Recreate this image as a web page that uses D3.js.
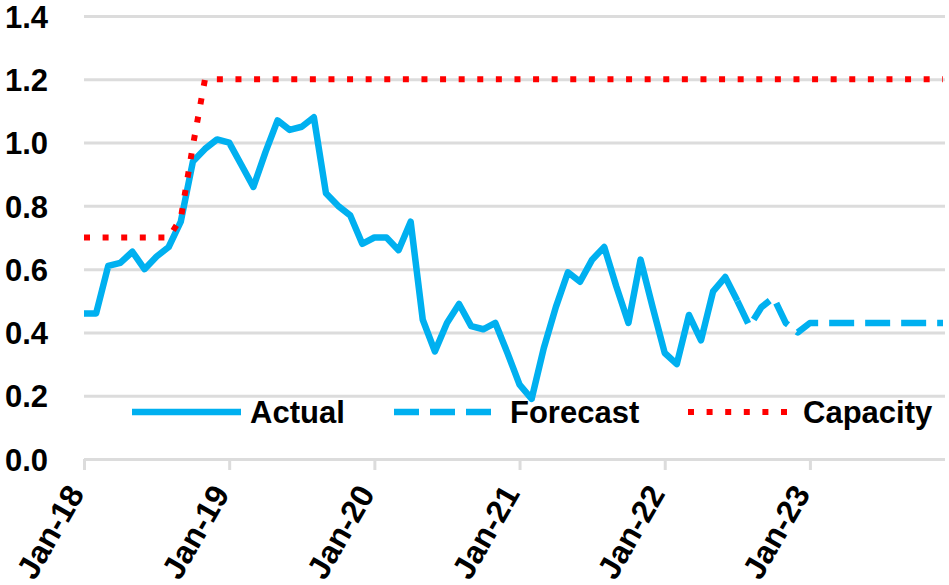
<!DOCTYPE html>
<html>
<head>
<meta charset="utf-8">
<script src="https://cdn.jsdelivr.net/npm/d3@7"></script>
<style>
  body { margin: 0; background: #fff; }
  svg text { font-family: "Liberation Sans", Arial, sans-serif; font-weight: bold; fill: #000; }
</style>
</head>
<body>
<svg id="chart"></svg>
<script>
// month index 0 = Jan-18, 71 = Dec-23
const yearTicks = [0, 12, 24, 36, 48, 60];
const yearLabels = ["Jan-18", "Jan-19", "Jan-20", "Jan-21", "Jan-22", "Jan-23"];
const yTicks = [0, 0.2, 0.4, 0.6, 0.8, 1.0, 1.2, 1.4];

// Jan-18 .. Jul-22
const actual = [
  0.46, 0.46, 0.61, 0.62, 0.655, 0.60, 0.64, 0.67, 0.75, 0.94, 0.98, 1.01,
  1.00, 0.93, 0.86, 0.97, 1.07, 1.04, 1.05, 1.08, 0.84, 0.80, 0.77, 0.68,
  0.70, 0.70, 0.66, 0.75, 0.44, 0.34, 0.43, 0.49, 0.42, 0.41, 0.43, 0.335,
  0.235, 0.19, 0.35, 0.48, 0.59, 0.56, 0.63, 0.67, 0.545, 0.43, 0.63, 0.48,
  0.335, 0.30, 0.455, 0.375, 0.53, 0.575, 0.50
];

// Jul-22 .. Dec-23
const forecastStart = 54;
const forecast = [
  0.50, 0.42, 0.48, 0.51, 0.43, 0.40,
  0.43, 0.43, 0.43, 0.43, 0.43, 0.43, 0.43, 0.43, 0.43, 0.43, 0.43, 0.43
];

// Jan-18 .. Dec-23
const capacity = [
  0.70, 0.70, 0.70, 0.70, 0.70, 0.70, 0.70, 0.70, 0.76, 0.99, 1.20, 1.20,
  1.20, 1.20, 1.20, 1.20, 1.20, 1.20, 1.20, 1.20, 1.20, 1.20, 1.20, 1.20,
  1.20, 1.20, 1.20, 1.20, 1.20, 1.20, 1.20, 1.20, 1.20, 1.20, 1.20, 1.20,
  1.20, 1.20, 1.20, 1.20, 1.20, 1.20, 1.20, 1.20, 1.20, 1.20, 1.20, 1.20,
  1.20, 1.20, 1.20, 1.20, 1.20, 1.20, 1.20, 1.20, 1.20, 1.20, 1.20, 1.20,
  1.20, 1.20, 1.20, 1.20, 1.20, 1.20, 1.20, 1.20, 1.20, 1.20, 1.20, 1.20
];

const legendItems = ["Actual", "Forecast", "Capacity"];

//margins
const margin = { top: 16, right: 4, bottom: 126, left: 84 };
const width = 949 - margin.left - margin.right;
const height = 585 - margin.top - margin.bottom;

const blue = "#00b0f0";
const red = "#ff0000";
const grid = "#dcdcdc";

const svg = d3.select("svg#chart")
  .attr("width", 949)
  .attr("height", 585);

const plotArea = svg.append("g")
  .attr("transform", "translate(" + margin.left + ", " + margin.top + ")");

const xScale = d3.scaleLinear()
  .domain([0, 71])
  .range([0, width - 2]);

const yScale = d3.scaleLinear()
  .domain([0, 1.4])
  .range([height, 0]);

//y axis with gridlines
const yAxis = plotArea.append("g")
  .call(d3.axisLeft(yScale)
    .tickValues(yTicks)
    .tickSize(-width)
    .tickPadding(36)
    .tickFormat(d3.format(".1f")));

yAxis.select(".domain").remove();
yAxis.selectAll("line").attr("stroke", grid).attr("stroke-width", 3);
yAxis.selectAll("text").style("font-size", "31px").attr("dy", "0.36em");

//x axis
const xAxis = plotArea.append("g")
  .attr("transform", "translate(0, " + height + ")")
  .call(d3.axisBottom(xScale)
    .tickValues(yearTicks)
    .tickSize(11)
    .tickSizeOuter(0)
    .tickFormat((d, i) => yearLabels[i]));

xAxis.select(".domain").remove();
xAxis.selectAll("line").attr("stroke", grid).attr("stroke-width", 3);
xAxis.selectAll("text")
  .style("font-size", "32px")
  .attr("text-anchor", "end")
  .attr("x", 0)
  .attr("y", 0)
  .attr("dy", "0.35em")
  .attr("transform", "translate(-9, 29) rotate(-60)");

//lines
const line = offset => d3.line()
  .x((d, i) => xScale(i + offset))
  .y(d => yScale(d));

plotArea.append("path")
  .datum(actual)
  .attr("d", line(0))
  .attr("fill", "none")
  .attr("stroke", blue)
  .attr("stroke-width", 6.5)
  .attr("stroke-linejoin", "round");

plotArea.append("path")
  .datum(forecast)
  .attr("d", line(forecastStart))
  .attr("fill", "none")
  .attr("stroke", blue)
  .attr("stroke-width", 6.5)
  .attr("stroke-linejoin", "round")
  .attr("stroke-dasharray", "25,11");

plotArea.append("path")
  .datum(capacity)
  .attr("d", line(0))
  .attr("fill", "none")
  .attr("stroke", red)
  .attr("stroke-width", 6)
  .attr("stroke-dasharray", "6,12.6");

//legend
const legendY = 412;
const legendX = [132, 394, 688];
const legendTextX = [250, 510, 803];
const legendDash = [null, "25,11", "6,12.6"];
const legendLen = [109, 101, 99];

const legend = svg.append("g");
legendItems.forEach((name, i) => {
  legend.append("line")
    .attr("x1", legendX[i])
    .attr("x2", legendX[i] + legendLen[i])
    .attr("y1", legendY)
    .attr("y2", legendY)
    .attr("stroke", i == 2 ? red : blue)
    .attr("stroke-width", i == 2 ? 6 : 6.5)
    .attr("stroke-dasharray", legendDash[i]);
  legend.append("text")
    .attr("x", legendTextX[i])
    .attr("y", legendY)
    .attr("dy", "0.36em")
    .style("font-size", "31px")
    .text(name);
});
</script>
</body>
</html>
